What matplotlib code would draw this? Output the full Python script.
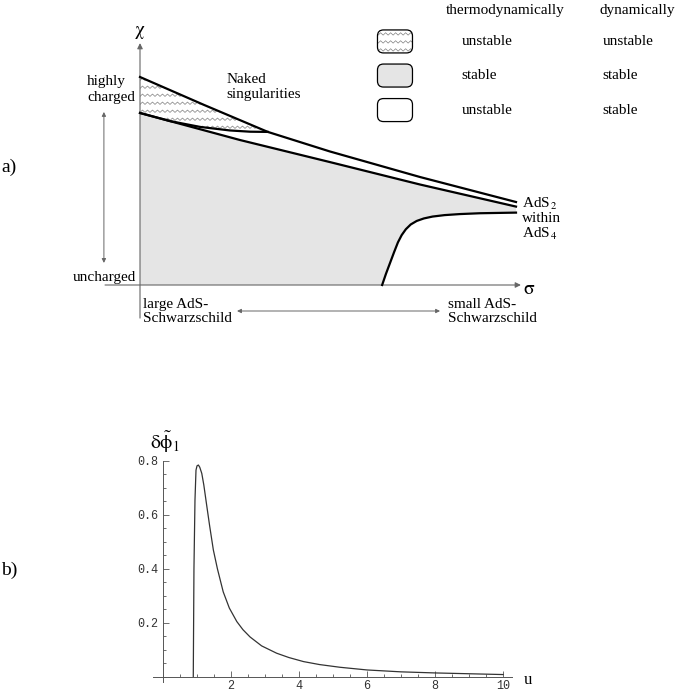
import numpy as np
import matplotlib.pyplot as plt
from matplotlib.patches import Polygon, FancyBboxPatch
from matplotlib.ticker import FixedLocator, MultipleLocator, FormatStrFormatter

plt.rcParams['font.family'] = ['Liberation Serif', 'DejaVu Serif']
plt.rcParams['mathtext.fontset'] = 'stix'

# ---- a) phase diagram, (sigma, chi) in arbitrary units
upper_sigma = [0.0, 0.170, 0.340, 0.505, 0.745, 1.0]
upper_chi = [1.0, 0.866, 0.736, 0.642, 0.519, 0.399]

middle_sigma = [0.0, 0.266, 0.505, 0.745, 1.0]
middle_chi = [0.827, 0.697, 0.591, 0.483, 0.377]

cusp_sigma = [0.0, 0.080, 0.160, 0.239, 0.293, 0.340]
cusp_chi = [0.827, 0.788, 0.760, 0.743, 0.737, 0.736]

lower_sigma = [0.644, 0.654, 0.665, 0.676, 0.686, 0.696, 0.707, 0.720,
               0.736, 0.755, 0.778, 0.810, 0.851, 0.904, 1.0]
lower_chi = [0.0, 0.053, 0.106, 0.159, 0.205, 0.240, 0.268, 0.291,
             0.308, 0.320, 0.329, 0.336, 0.341, 0.345, 0.348]

legend_thermo = ['unstable', 'stable', 'unstable']
legend_dyn = ['unstable', 'stable', 'stable']
legend_style = ['zigzag', '#e5e5e5', 'white']

# ---- b) perturbation profile
u = [0.89, 0.91, 0.94, 0.97, 1.00, 1.04, 1.08, 1.14, 1.20, 1.29, 1.37, 1.48,
     1.60, 1.77, 1.95, 2.17, 2.35, 2.56, 2.90, 3.34, 3.70, 4.13, 4.60, 5.20,
     6.00, 7.00, 8.00, 9.00, 10.0]
dphi = [0.0, 0.40, 0.654, 0.765, 0.781, 0.784, 0.776, 0.753, 0.71, 0.63, 0.56,
        0.47, 0.40, 0.315, 0.255, 0.205, 0.175, 0.148, 0.115, 0.088, 0.072,
        0.057, 0.046, 0.036, 0.026, 0.019, 0.015, 0.012, 0.009]

W, H = 678, 694
fig = plt.figure(figsize=(W / 100, H / 100), dpi=100)

# one data unit = 376 px along sigma, 208 px along chi
SX, SY = 376.0, 208.0
ax = fig.add_axes([0, (H - 340) / H, 1, 340 / H])
ax.set_xlim(-140 / SX, (W - 140) / SX)
ax.set_ylim(-55 / SY, 285 / SY)
ax.axis('off')

GRAY = '#e5e5e5'
AXC = '#666666'


def zigzag(ax, clip, x0, x1, y0, y1, z=2):
    # wavy texture, clipped to a patch
    dx, dy, amp = 5 / SX, 8 / SY, 1.2 / SY
    for yy in np.arange(y0, y1, dy):
        xs = np.arange(x0, x1, dx / 2)
        ys = yy + amp * (np.arange(len(xs)) % 2 * 2 - 1)
        ln, = ax.plot(xs, ys, color='#808080', lw=0.5, zorder=z)
        ln.set_clip_path(clip)


# stable region
gx = [0.0] + middle_sigma + lower_sigma[::-1]
gy = [0.0] + middle_chi + lower_chi[::-1]
ax.add_patch(Polygon(np.column_stack([gx, gy]), closed=True,
                     facecolor=GRAY, edgecolor='none', zorder=1))

# unstable/unstable region
hx = upper_sigma[:3] + cusp_sigma[::-1]
hy = upper_chi[:3] + cusp_chi[::-1]
hpatch = Polygon(np.column_stack([hx, hy]), closed=True,
                 facecolor='white', edgecolor='none', zorder=1)
ax.add_patch(hpatch)
zigzag(ax, hpatch, 0, 0.36, 0.72, 1.01)

# axes of the diagram
arrow = dict(arrowstyle='-|>', color=AXC, lw=0.8, mutation_scale=8,
             shrinkA=0, shrinkB=0)
ax.annotate('', xy=(0, 1.163), xytext=(0, -0.159), arrowprops=arrow, zorder=3)
ax.annotate('', xy=(1.013, 0), xytext=(-0.093, 0), arrowprops=arrow, zorder=3)

ax.plot(upper_sigma, upper_chi, color='black', lw=1.6, zorder=4)
ax.plot(middle_sigma, middle_chi, color='black', lw=1.6, zorder=4)
ax.plot(cusp_sigma, cusp_chi, color='black', lw=1.6, zorder=4)
ax.plot(lower_sigma, lower_chi, color='black', lw=1.6, zorder=4)

darrow = dict(arrowstyle='<|-|>', color=AXC, lw=0.7, mutation_scale=6,
              shrinkA=0, shrinkB=0)
ax.annotate('', xy=(-0.096, 0.832), xytext=(-0.096, 0.106), arrowprops=darrow)
ax.annotate('', xy=(0.258, -0.125), xytext=(0.798, -0.125), arrowprops=darrow)

fs = 11
ax.text(0, 1.212, r'$\mathrm{\chi}$', fontsize=14, ha='center', va='center')
ax.text(1.035, -0.024, r'$\mathrm{\sigma}$', fontsize=14, ha='center',
        va='center')
ax.text(-0.141, 0.94, 'highly\ncharged', fontsize=fs, ha='left', va='center',
        linespacing=1.3)
ax.text(-0.011, 0.038, 'uncharged', fontsize=fs, ha='right', va='center')
ax.text(0.229, 0.952, 'Naked\nsingularities', fontsize=fs, ha='left',
        va='center', linespacing=1.25)
ax.text(0.008, -0.127, 'large AdS-\nSchwarzschild', fontsize=fs, ha='left',
        va='center', linespacing=1.15)
ax.text(0.819, -0.127, 'small AdS-\nSchwarzschild', fontsize=fs, ha='left',
        va='center', linespacing=1.15)
ax.text(1.016, 0.318, 'AdS$_{\\,2}$\nwithin\nAdS$_{\\,4}$', fontsize=fs,
        ha='left', va='center', linespacing=1.05)

# legend
ax.text(0.971, 1.322, 'thermodynamically', fontsize=fs, ha='center', va='center')
ax.text(1.322, 1.322, 'dynamically', fontsize=fs, ha='center', va='center')
row_chi = [1.171, 1.007, 0.841]
bw, bh = 35 / SX, 23 / SY
for yc, t1, t2, st in zip(row_chi, legend_thermo, legend_dyn, legend_style):
    box = FancyBboxPatch((0.6316, yc - bh / 2), bw, bh,
                         boxstyle='round,pad=0,rounding_size=0.016',
                         mutation_aspect=SX / SY,
                         facecolor='none' if st == 'zigzag' else st,
                         edgecolor='black', lw=0.9, zorder=3)
    ax.add_patch(box)
    if st == 'zigzag':
        zigzag(ax, box, 0.62, 0.74, yc - bh / 2 + 3 / SY, yc + bh / 2)
    ax.text(0.856, yc, t1, fontsize=fs, ha='left', va='center')
    ax.text(1.231, yc, t2, fontsize=fs, ha='left', va='center')

fig.text(1 / W, 1 - 167 / H, 'a)', fontsize=14, ha='left', va='center')
fig.text(1 / W, 1 - 570 / H, 'b)', fontsize=14, ha='left', va='center')

# ---- b)
ax2 = fig.add_axes([153 / W, (H - 682.4) / H, 359 / W, (682.4 - 460.7) / H])
ax2.plot(u, dphi, color='#333333', lw=0.9)
ax2.set_xlim(-0.294, 10.26)
ax2.set_ylim(-0.02, 0.80)
for side in ['top', 'right']:
    ax2.spines[side].set_visible(False)
for side in ['left', 'bottom']:
    ax2.spines[side].set_position(('data', 0))
    ax2.spines[side].set_color('#555555')
    ax2.spines[side].set_linewidth(0.7)
ax2.set_facecolor('none')
ax2.xaxis.set_major_locator(FixedLocator([2, 4, 6, 8, 10]))
ax2.xaxis.set_minor_locator(MultipleLocator(0.5))
ax2.yaxis.set_major_locator(FixedLocator([0.2, 0.4, 0.6, 0.8]))
ax2.yaxis.set_minor_locator(MultipleLocator(0.05))
ax2.xaxis.set_major_formatter(FormatStrFormatter('%d'))
ax2.yaxis.set_major_formatter(FormatStrFormatter('%.1f'))
ax2.tick_params(which='both', direction='in', color='#555555', width=0.6,
                labelsize=8.5, labelcolor='#333333',
                labelfontfamily='Liberation Mono')
ax2.tick_params(which='major', length=4)
ax2.tick_params(which='minor', length=2)
ax2.tick_params(axis='y', pad=3.6)
ax2.tick_params(axis='x', pad=2.5)
ax2.text(0.06, 0.869, r'$\mathrm{\delta}\tilde{\mathrm{\phi}}_{1}$',
         fontsize=14, ha='center', va='center')
ax2.text(10.74, -0.011, 'u', fontsize=12, ha='center', va='center')

fig.savefig('out.png', dpi=100)
